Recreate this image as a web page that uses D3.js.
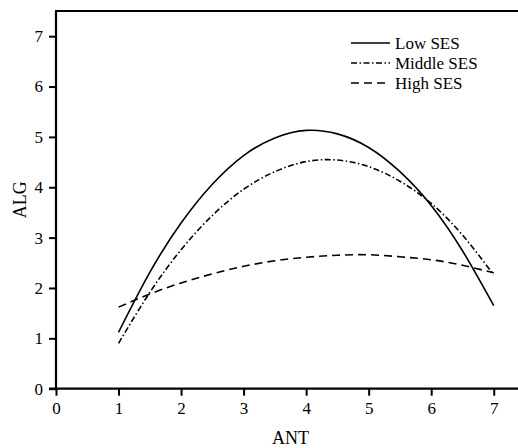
<!DOCTYPE html>
<html>
<head>
<meta charset="utf-8">
<script src="https://cdn.jsdelivr.net/npm/d3@7"></script>
<style>
  html, body { margin: 0; padding: 0; background: #fff; }
  svg { display: block; }
</style>
</head>
<body>
<svg id="chart" width="518" height="448"></svg>
<script>
const xValues = [1, 1.5, 2, 2.5, 3, 3.5, 4, 4.5, 5, 5.5, 6, 6.5, 7];
const lowSES    = [1.12, 2.31, 3.29, 4.06, 4.63, 4.98, 5.13, 5.06, 4.79, 4.31, 3.64, 2.74, 1.65];
const middleSES = [0.90, 1.91, 2.76, 3.44, 3.96, 4.31, 4.51, 4.54, 4.41, 4.12, 3.68, 3.05, 2.26];
const highSES   = [1.62, 1.88, 2.10, 2.28, 2.43, 2.54, 2.61, 2.65, 2.66, 2.62, 2.56, 2.45, 2.30];
const seriesNames = ["Low SES", "Middle SES", "High SES"];
const xTicks = [0, 1, 2, 3, 4, 5, 6, 7];
const yTicks = [0, 1, 2, 3, 4, 5, 6, 7];
const minorTicks = [0.5, 1.5, 2.5, 3.5, 4.5, 5.5, 6.5];

const FONT = "'Liberation Serif', 'Times New Roman', serif";
const svg = d3.select("#chart");
const x = d3.scaleLinear().domain([0, 7.5]).range([56, 525]);
const y = d3.scaleLinear().domain([0, 7.5]).range([388.7, 11]);

const dashes = ["none", "6,2.5,1.5,2.5", "8,5"];
const seriesData = [lowSES, middleSES, highSES];

const line = d3.line()
  .x((d, i) => x(xValues[i]))
  .y(d => y(d))
  .curve(d3.curveNatural);

seriesData.forEach((s, k) => {
  svg.append("path")
    .attr("d", line(s))
    .attr("fill", "none")
    .attr("stroke", "#000")
    .attr("stroke-width", 1.6)
    .attr("stroke-dasharray", dashes[k]);
});

// axes
const gx = svg.append("g").attr("transform", `translate(0,${y(0)})`);
gx.call(d3.axisBottom(x).tickValues(minorTicks).tickSize(4).tickFormat(""));
gx.call(d3.axisBottom(x).tickValues(xTicks).tickSize(7).tickPadding(6).tickFormat(d3.format("d")));
const gy = svg.append("g").attr("transform", `translate(${x(0)},0)`);
gy.call(d3.axisLeft(y).tickValues(minorTicks).tickSize(4).tickFormat(""));
gy.call(d3.axisLeft(y).tickValues(yTicks).tickSize(7).tickPadding(6).tickFormat(d3.format("d")));

[gx, gy].forEach(g => {
  g.selectAll(".domain").remove();
  g.selectAll("line").attr("stroke", "#000").attr("stroke-width", 2);
  g.selectAll("text").style("font-size", "17px").style("font-family", FONT).attr("fill", "#000");
});

// axis lines
svg.append("line").attr("x1", x(0) - 7).attr("x2", 520).attr("y1", y(0)).attr("y2", y(0))
  .attr("stroke", "#000").attr("stroke-width", 2.2);
svg.append("line").attr("x1", x(0)).attr("x2", x(0)).attr("y1", y(0)).attr("y2", y(7.5))
  .attr("stroke", "#000").attr("stroke-width", 2.2);
svg.append("line").attr("x1", x(0) - 1).attr("x2", 520).attr("y1", y(7.5)).attr("y2", y(7.5))
  .attr("stroke", "#000").attr("stroke-width", 2);

// axis titles
svg.append("text").attr("x", (x(0) + x(7.5)) / 2).attr("y", 444)
  .attr("text-anchor", "middle").style("font-size", "18px").style("font-family", FONT).text("ANT");
svg.append("text").attr("transform", `translate(26,${(y(0) + y(7.5)) / 2}) rotate(-90)`)
  .attr("text-anchor", "middle").style("font-size", "18px").style("font-family", FONT).text("ALG");

// legend
const lg = svg.append("g");
seriesNames.forEach((name, k) => {
  const ly = 43 + k * 20;
  lg.append("line").attr("x1", 351).attr("x2", 390).attr("y1", ly).attr("y2", ly)
    .attr("stroke", "#000").attr("stroke-width", 1.6).attr("stroke-dasharray", dashes[k]);
  lg.append("text").attr("x", 395).attr("y", ly + 5.5)
    .style("font-size", "17px").style("font-family", FONT).text(name);
});
</script>
</body>
</html>
